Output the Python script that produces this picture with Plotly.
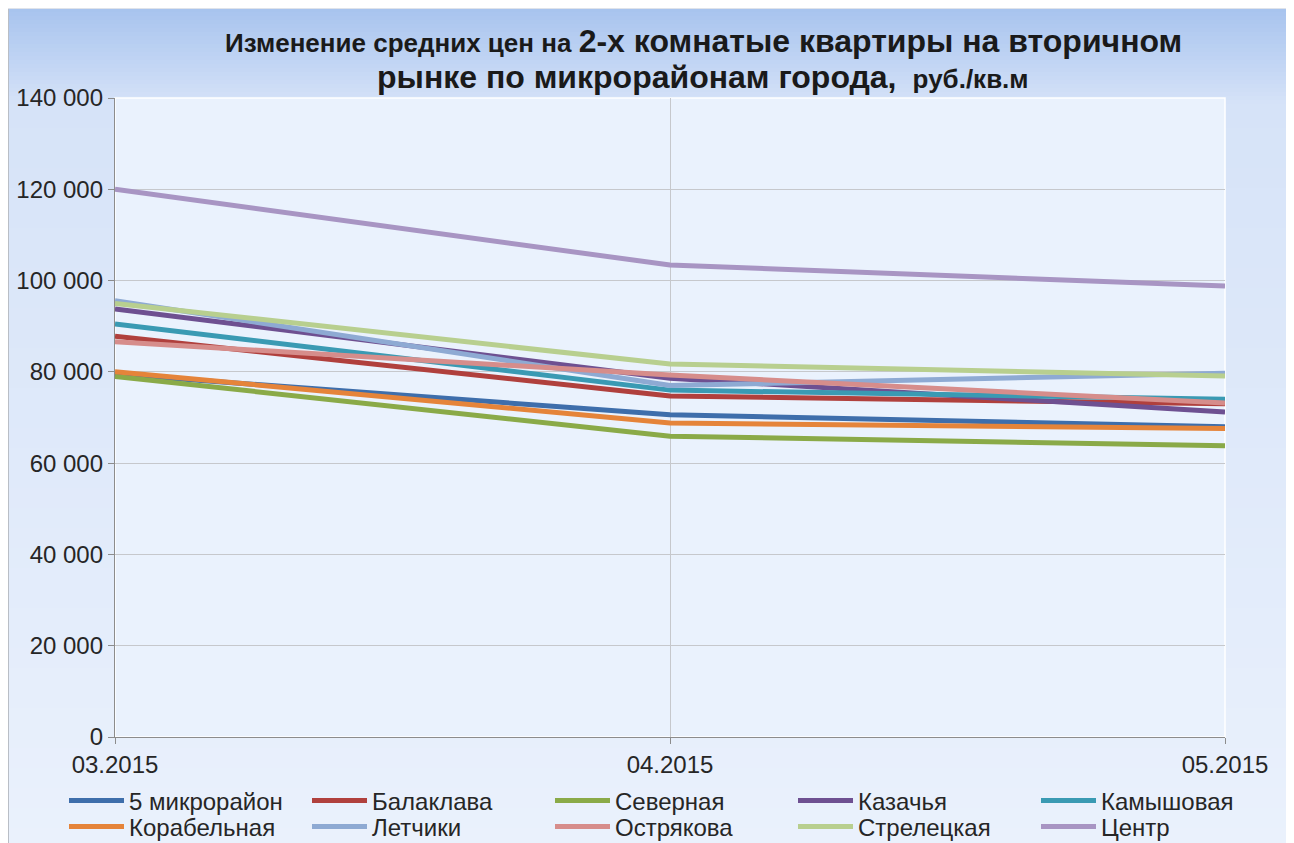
import plotly.graph_objects as go

months = ["03.2015", "04.2015", "05.2015"]

names = ["5 микрорайон", "Балаклава", "Северная", "Казачья", "Камышовая",
         "Корабельная", "Летчики", "Острякова", "Стрелецкая", "Центр"]

s_5mkr = [79500, 70600, 68000]
s_balaklava = [87800, 74700, 73000]
s_severnaya = [79000, 65900, 63800]
s_kazachya = [93800, 78600, 71200]
s_kamyshovaya = [90500, 76000, 74000]
s_korabelnaya = [80000, 68800, 67600]
s_letchiki = [95600, 77000, 79700]
s_ostryakova = [86600, 79300, 73200]
s_streletskaya = [95000, 81700, 79100]
s_centr = [120000, 103400, 98800]

series = [s_5mkr, s_balaklava, s_severnaya, s_kazachya, s_kamyshovaya,
          s_korabelnaya, s_letchiki, s_ostryakova, s_streletskaya, s_centr]

colors = ["#3e6eab", "#b0403d", "#8aaa48", "#6e5091", "#3a9ab3",
          "#e5843a", "#8eaad3", "#d68d8b", "#b8cf8f", "#a895c3"]

# the page body adds an 8px margin, so the figure is 8px smaller
W, H = 1286, 835
L, R, T, B = 107, 1217, 90, 729  # plot area pixels inside the figure


def px(x):
    return (x - L) / (R - L)


def py(y):
    return (B - y) / (B - T)


fig = go.Figure()
for i, (n, s, c) in enumerate(zip(names, series, colors)):
    fig.add_trace(go.Scatter(x=months, y=s, name=n, mode="lines",
                             legend="legend" if i < 5 else "legend2",
                             line=dict(color=c, width=5)))

# background gradient for the chart frame
shapes = []


def lerp(c1, c2, t):
    return tuple(int(round(a + (b - a) * t)) for a, b in zip(c1, c2))


stops = [(0, (167, 195, 238)), (97, (214, 227, 248)), (835, (234, 241, 252))]
y = 0
while y < H:
    step = 4 if y < 100 else 20
    y2 = min(y + step, H)
    ym = (y + y2) / 2
    for (ya, ca), (yb, cb) in zip(stops[:-1], stops[1:]):
        if ya <= ym <= yb:
            col = lerp(ca, cb, (ym - ya) / (yb - ya))
            break
    shapes.append(dict(type="rect", xref="paper", yref="paper", layer="below",
                       x0=px(0), x1=px(1278), y0=py(y2 + 0.5), y1=py(y),
                       line=dict(width=0),
                       fillcolor="rgb(%d,%d,%d)" % col))
    y = y2
# frame border
shapes.append(dict(type="line", xref="paper", yref="paper", layer="below",
                   x0=px(0.5), x1=px(0.5), y0=py(H), y1=py(0),
                   line=dict(color="#b9bec6", width=1)))
shapes.append(dict(type="line", xref="paper", yref="paper", layer="below",
                   x0=px(0), x1=px(1278), y0=py(0.5), y1=py(0.5),
                   line=dict(color="#dfe3ea", width=1)))
shapes.append(dict(type="line", xref="paper", yref="paper", layer="below",
                   x0=px(1279.5), x1=px(1279.5), y0=py(H), y1=py(0),
                   line=dict(color="#505050", width=3)))
# plot area white border
shapes.append(dict(type="rect", xref="paper", yref="paper", layer="below",
                   x0=0, x1=1, y0=0, y1=1,
                   line=dict(color="#ffffff", width=1.5),
                   fillcolor="#eaf2fd"))

fig.update_layout(shapes=shapes)

font_main = "Liberation Sans, Arial, sans-serif"
fig.add_annotation(
    xref="paper", yref="paper", x=px(695), y=py(33), xanchor="center", yanchor="middle",
    showarrow=False,
    text=("<b><span style='font-size:26px'>Изменение средних цен на </span>"
          "2-х комнатые квартиры на вторичном</b>"),
    font=dict(family=font_main, size=32, color="#1a1a1a"))
fig.add_annotation(
    xref="paper", yref="paper", x=px(695), y=py(69), xanchor="center", yanchor="middle",
    showarrow=False,
    text=("<b>рынке по микрорайонам города, "
          "<span style='font-size:26px'> руб./кв.м</span></b>"),
    font=dict(family=font_main, size=32, color="#1a1a1a"))

leg_common = dict(orientation="h", xref="paper", yref="paper",
                  x=px(56), xanchor="left", yanchor="middle",
                  entrywidth=173, entrywidthmode="pixels", itemwidth=55,
                  bgcolor="rgba(0,0,0,0)",
                  font=dict(family=font_main, size=24, color="#262626"))

fig.update_layout(
    width=W, height=H,
    margin=dict(l=L, r=W - R, t=T, b=H - B, pad=0, autoexpand=False),
    paper_bgcolor="#ffffff",
    plot_bgcolor="rgba(0,0,0,0)",
    separators=", ",
    font=dict(family=font_main, size=24, color="#262626"),
    showlegend=True,
    legend=dict(leg_common, y=py(793)),
    legend2=dict(leg_common, y=py(819)),
    xaxis=dict(type="category", range=[0, 2], showgrid=True,
               gridcolor="#c6c8cc", gridwidth=1.3,
               showline=True, linecolor="#8c8c8c", linewidth=1.3,
               ticks="outside", ticklen=6, tickcolor="#8c8c8c",
               tickfont=dict(size=24, color="#262626"),
               zeroline=False, fixedrange=True),
    yaxis=dict(range=[0, 140000], dtick=20000, tickformat=",d",
               showgrid=True, gridcolor="#c6c8cc", gridwidth=1.3,
               showline=True, linecolor="#8c8c8c", linewidth=1.3,
               ticks="outside", ticklen=6, tickcolor="#8c8c8c",
               tickfont=dict(size=24, color="#262626"),
               zeroline=False, fixedrange=True),
)

fig.write_html("out.html")
